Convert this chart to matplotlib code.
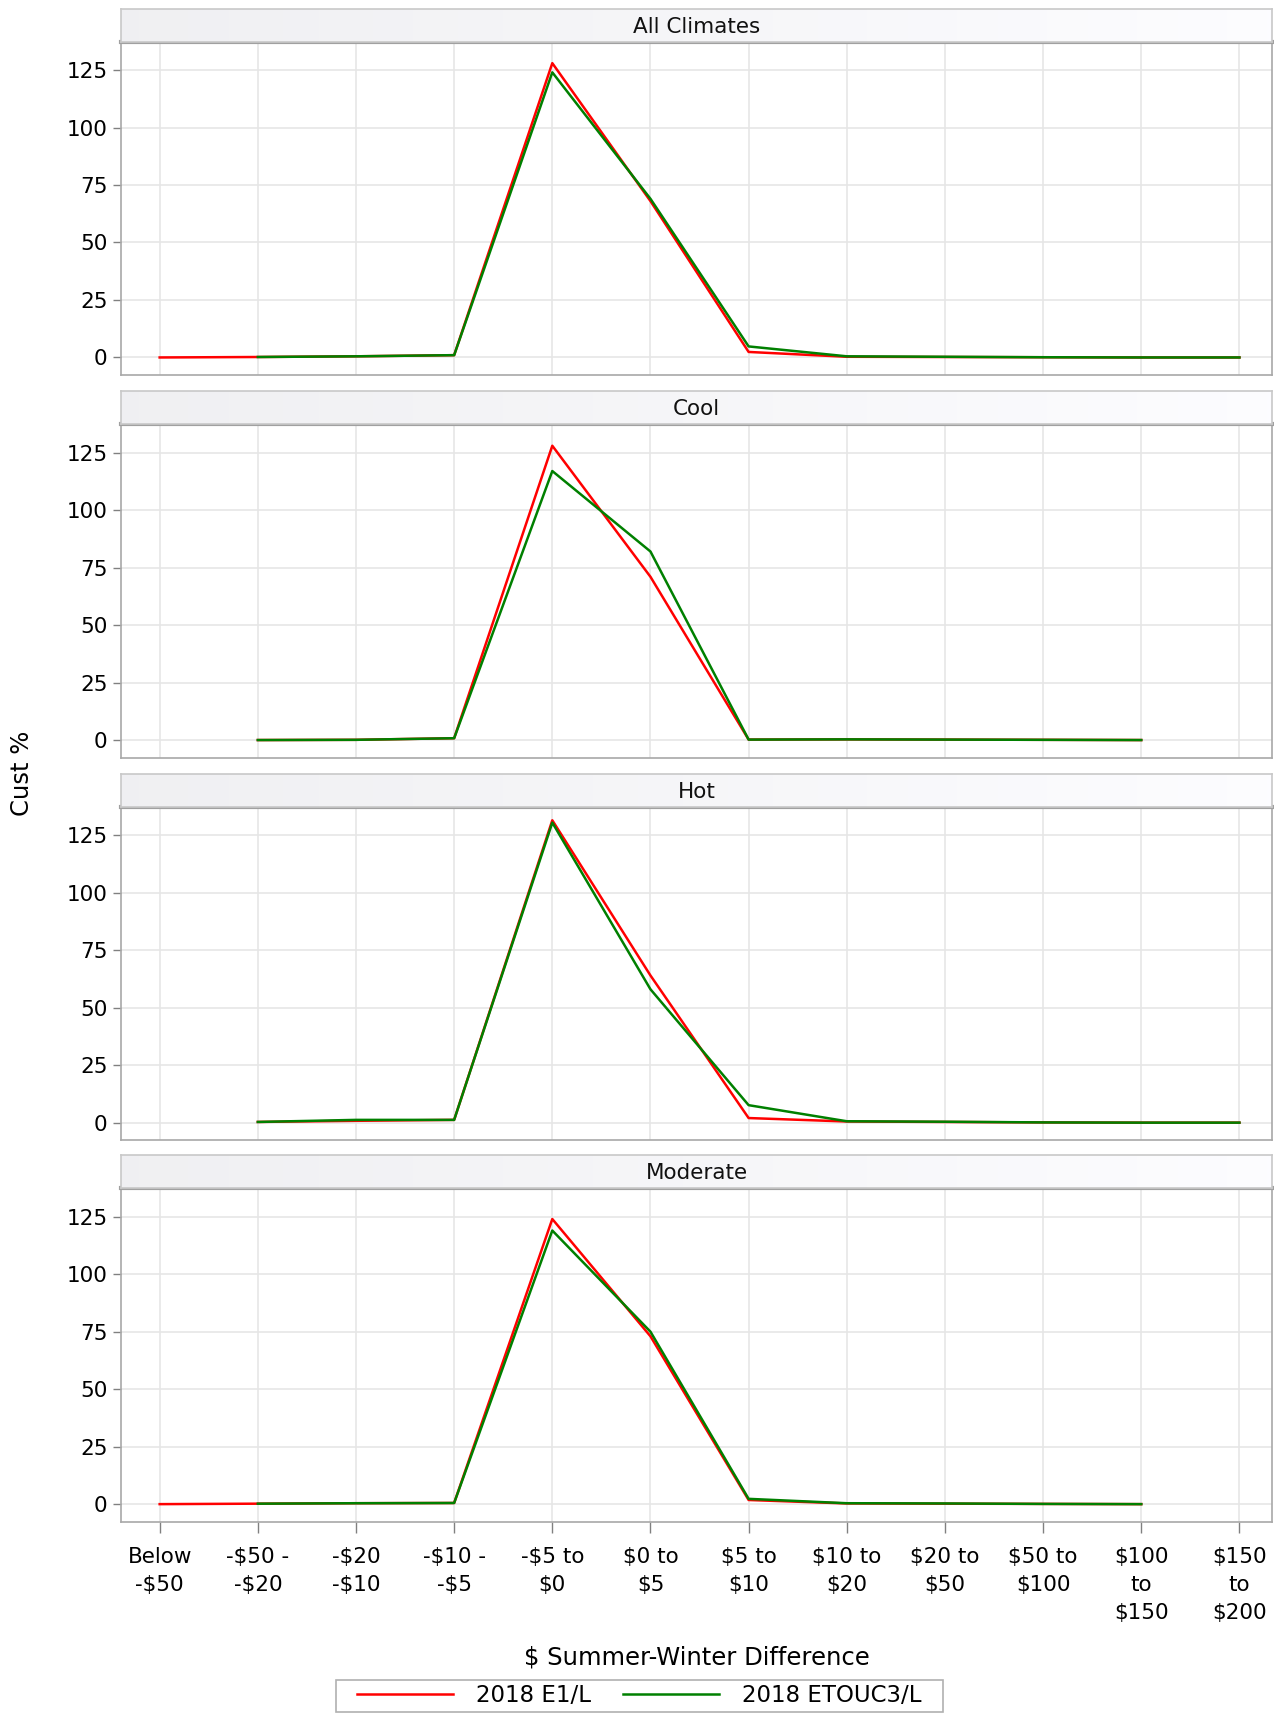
import numpy as np
import matplotlib
matplotlib.use("Agg")
import matplotlib.pyplot as plt
from matplotlib.patches import Rectangle

plt.rcParams['font.family'] = ['DejaVu Sans']
plt.rcParams['text.parse_math'] = False

nan = np.nan
categories = ["Below\n-$50", "-$50 -\n-$20", "-$20\n-$10", "-$10 -\n-$5", "-$5 to\n$0",
              "$0 to\n$5", "$5 to\n$10", "$10 to\n$20", "$20 to\n$50", "$50 to\n$100",
              "$100\nto\n$150", "$150\nto\n$200"]
panels = ["All Climates", "Cool", "Hot", "Moderate"]
series_names = ["2018 E1/L", "2018 ETOUC3/L"]

all_e1 = [0, 0.2, 0.5, 1.0, 128, 68, 2.4, 0.3, 0.2, 0.1, 0, 0]
all_et = [nan, 0.2, 0.5, 1.0, 124, 69, 4.8, 0.5, 0.3, 0.1, 0, 0]
cool_e1 = [nan, 0, 0.1, 0.8, 128, 71, 0.2, 0.3, 0.2, 0.1, 0, nan]
cool_et = [nan, 0, 0.1, 0.8, 117, 82, 0.2, 0.3, 0.2, 0.1, 0, nan]
hot_e1 = [nan, 0.3, 0.8, 1.2, 131.5, 64, 2.0, 0.5, 0.3, 0.1, 0, 0]
hot_et = [nan, 0.3, 1.2, 1.2, 130.5, 58, 7.6, 0.6, 0.4, 0.1, 0, 0]
mod_e1 = [0, 0.2, 0.4, 0.5, 124, 73, 1.8, 0.3, 0.2, 0.1, 0, nan]
mod_et = [nan, 0.2, 0.4, 0.5, 119, 75, 2.3, 0.4, 0.3, 0.1, 0, nan]

data = {
    "All Climates": (all_e1, all_et),
    "Cool": (cool_e1, cool_et),
    "Hot": (hot_e1, hot_et),
    "Moderate": (mod_e1, mod_et),
}
yticks = [0, 25, 50, 75, 100, 125]
colors = ["#ff0000", "#008000"]

W, H = 1274, 1714
fig = plt.figure(figsize=(W / 100, H / 100), dpi=100)

# display-space layout (reference shown at 1165x1568)
DW, DH = 1165.0, 1568.0
left = 111 / DW
right = 1163 / DW
plot_tops = [38, 388, 738, 1087]
plot_h = 305
head_h = 30

frame_col = "#a8a8a8"
grid_col = "#e6e6e6"
x = np.arange(len(categories))

axes = []
for i, name in enumerate(panels):
    top = plot_tops[i]
    ax = fig.add_axes([left, 1 - (top + plot_h) / DH, right - left, plot_h / DH])
    axes.append(ax)
    e1, et = data[name]
    ax.plot(x, e1, color=colors[0], lw=1.8, label=series_names[0], zorder=3)
    ax.plot(x, et, color=colors[1], lw=1.8, label=series_names[1], zorder=4)
    ax.set_xlim(-0.39, 11.33)
    ax.set_ylim(-7.6, 137.4)
    ax.set_yticks(yticks)
    ax.set_xticks(x)
    ax.grid(True, color=grid_col, lw=1.2)
    ax.set_axisbelow(True)
    for s in ax.spines.values():
        s.set_color(frame_col)
        s.set_linewidth(1.2)
    ax.spines['top'].set_linewidth(3)
    ax.spines['top'].set_color("#a0a0a0")
    ax.tick_params(axis='y', labelsize=15.5, color="#808080", length=6, width=1, pad=4)
    if i < 3:
        ax.tick_params(axis='x', length=0, labelbottom=False)
    else:
        ax.set_xticklabels(categories, fontsize=15.5, linespacing=1.5, va='top')
        ax.tick_params(axis='x', color="#808080", length=8, width=1, pad=10)

    # header strip
    hax = fig.add_axes([left, 1 - top / DH, right - left, head_h / DH])
    hax.set_xlim(0, 1)
    hax.set_ylim(0, 1)
    hax.set_xticks([])
    hax.set_yticks([])
    hax.set_facecolor("#f5f5f5")
    grad = np.linspace(0.95, 1.0, 256).reshape(1, -1)
    hax.imshow(np.dstack([grad * 0.99, grad * 0.99, grad]), extent=[0, 1, 0, 1],
               aspect='auto', zorder=0)
    for s in hax.spines.values():
        s.set_color("#c8c8c8")
        s.set_linewidth(1.2)
    hax.text(0.5, 0.45, name, ha='center', va='center', fontsize=15.5, color="#111111")

fig.text(20 / DW, 1 - 707 / DH, "Cust %", rotation=90, ha='center', va='center', fontsize=17.5)
fig.text((left + right) / 2, 1 - 1516 / DH, "$ Summer-Winter Difference", ha='center',
         va='center', fontsize=17.5)

handles, labels = axes[0].get_legend_handles_labels()
leg = fig.legend(handles, labels, loc='center', bbox_to_anchor=(584.5 / DW, 1 - 1551.5 / DH),
                 ncol=2, fontsize=16.5, frameon=False, handlelength=4.2,
                 columnspacing=1.4, handletextpad=1.0, borderpad=0.2)
for lh in leg.get_lines():
    lh.set_linewidth(1.8)
fig.patches.append(Rectangle((307 / DW, 1 - 1566 / DH), (862 - 307) / DW, 29 / DH,
                             transform=fig.transFigure, fill=False, edgecolor="#b0b0b0",
                             linewidth=1.2))

fig.savefig("out.png", dpi=100)
